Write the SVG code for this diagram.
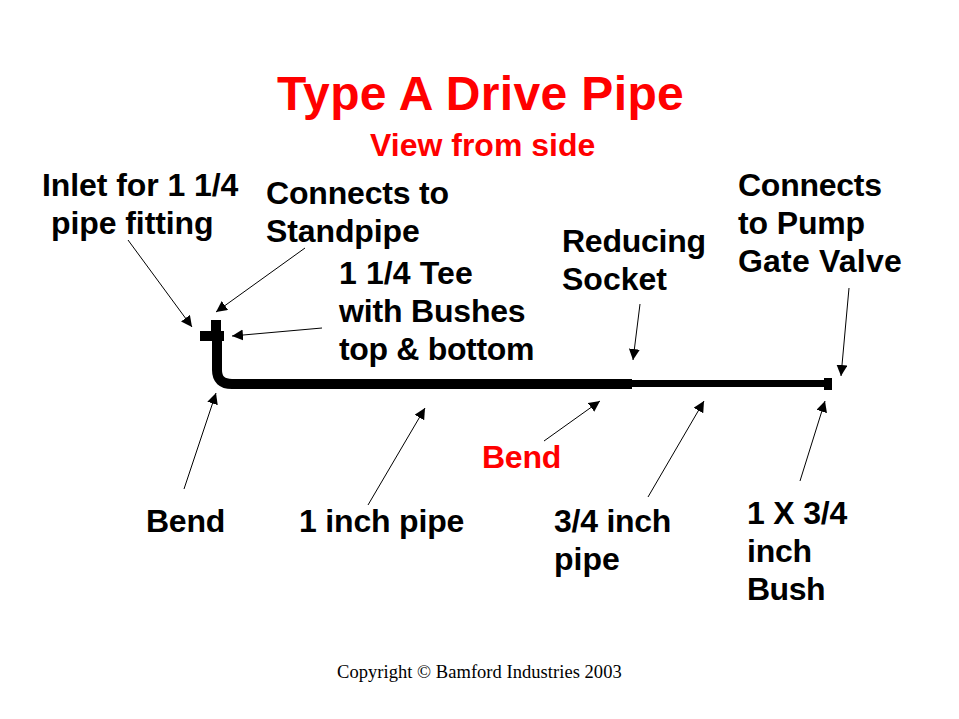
<svg xmlns="http://www.w3.org/2000/svg" width="959" height="719" viewBox="0 0 959 719">
<style>
text{font-family:"Liberation Sans",Arial,sans-serif;font-size:32px;font-weight:bold;fill:#000}
.r{fill:#f00}
.c{font-family:"Liberation Serif","Times New Roman",serif;font-size:18.5px;font-weight:normal;letter-spacing:.04px}
.a{fill:none;stroke:#000;stroke-width:1;marker-end:url(#h)}
</style>
<defs><marker id="h" markerUnits="userSpaceOnUse" markerWidth="12" markerHeight="12" refX="11" refY="5.5" orient="auto"><path d="M0 0L11 5.5L0 11z" fill="#000"/></marker></defs>
<rect width="959" height="719" fill="#fff"/>
<g id="title"><text class="r" x="277" y="110" style="font-size:48px;letter-spacing:.36px">Type A Drive Pipe</text><text class="r" x="370" y="156">View from side</text></g>
<g id="pipe">
<path d="M217 335V370Q217 384 232 384H632" fill="none" stroke="#000" stroke-width="10"/>
<rect x="211" y="320" width="10" height="21"/>
<rect x="200" y="331" width="24" height="10"/>
<rect x="632" y="380" width="192" height="7"/>
<rect x="824" y="378" width="8" height="12"/>
</g>
<g id="connectors">
<line class="a" x1="128" y1="240" x2="192" y2="327"/>
<line class="a" x1="305" y1="248" x2="216" y2="312"/>
<line class="a" x1="322" y1="328" x2="232" y2="336"/>
<line class="a" x1="184" y1="489" x2="216" y2="393"/>
<line class="a" x1="368" y1="505" x2="425" y2="408"/>
<line class="a" x1="640" y1="304" x2="633" y2="360"/>
<line class="a" x1="849" y1="288" x2="841" y2="376"/>
<line class="a" x1="544" y1="441" x2="600" y2="401"/>
<line class="a" x1="648" y1="497" x2="704" y2="401"/>
<line class="a" x1="800" y1="481" x2="825" y2="401"/>
</g>
<g id="inlet-label"><text x="42" y="196" letter-spacing="-.07">Inlet for 1 1/4</text><text x="51" y="234" letter-spacing="-.08">pipe fitting</text></g>
<g id="standpipe-label"><text x="266" y="204" letter-spacing="-.18">Connects to</text><text x="266" y="242" letter-spacing="-.11">Standpipe</text></g>
<g id="tee-label"><text x="339" y="284" letter-spacing=".11">1 1/4 Tee</text><text x="339" y="322" letter-spacing="-.18">with Bushes</text><text x="339" y="360" letter-spacing="-.33">top &amp; bottom</text></g>
<g id="socket-label"><text x="562" y="252" letter-spacing="-.25">Reducing</text><text x="562" y="290">Socket</text></g>
<g id="valve-label"><text x="738" y="196" letter-spacing="-.25">Connects</text><text x="738" y="234" letter-spacing="-.14">to Pump</text><text x="738" y="272" letter-spacing=".2">Gate Valve</text></g>
<g id="bend-label"><text x="146" y="532" letter-spacing="-.25">Bend</text></g>
<g id="bend-red-label"><text class="r" x="482" y="468" letter-spacing="-.25">Bend</text></g>
<g id="inch-label"><text x="299" y="532" letter-spacing="-.18">1 inch pipe</text></g>
<g id="three-quarter-label"><text x="554" y="532" letter-spacing="-.25">3/4 inch</text><text x="554" y="570">pipe</text></g>
<g id="bush-label"><text x="747" y="524" letter-spacing="-.17">1 X 3/4</text><text x="747" y="562" letter-spacing="-.25">inch</text><text x="747" y="600" letter-spacing="-.5">Bush</text></g>
<g id="copyright"><text class="c" x="337" y="678">Copyright © Bamford Industries 2003</text></g>
</svg>
